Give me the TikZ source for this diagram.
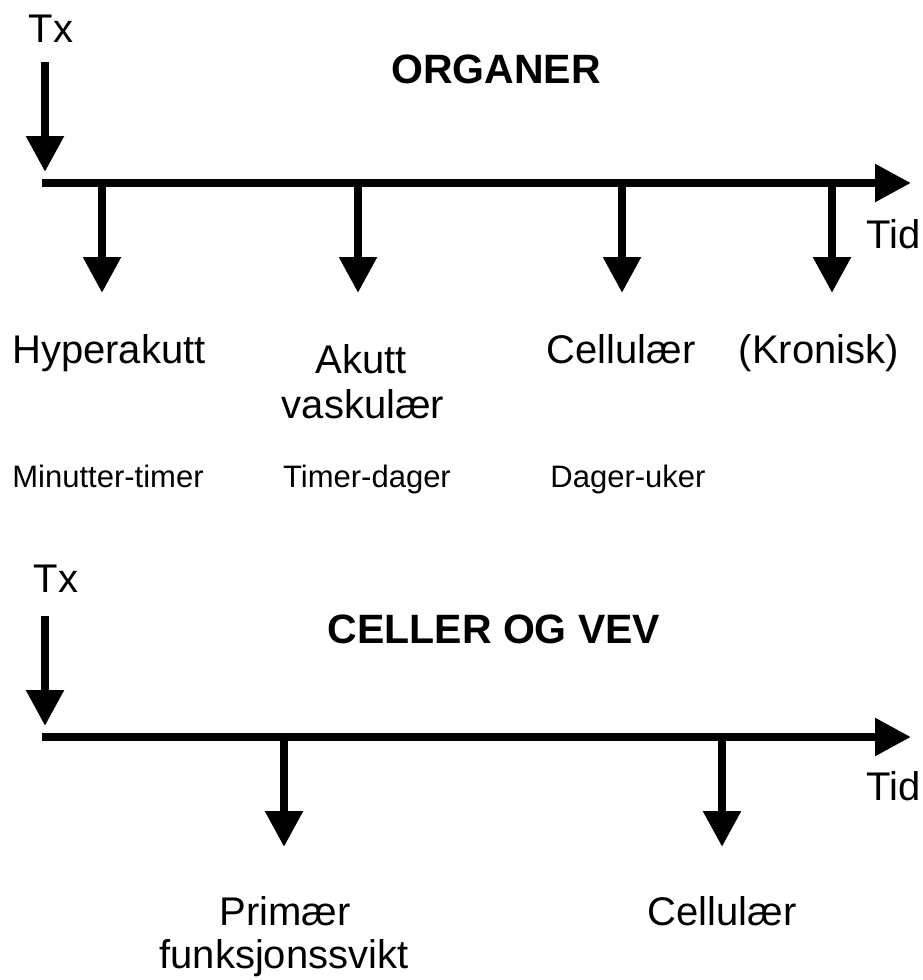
\documentclass[tikz,border=0pt]{standalone}
\usepackage{fontspec}
\setmainfont{Liberation Sans}
\usetikzlibrary{arrows.meta}
\begin{document}
\begin{tikzpicture}[x=1pt,y=-1pt,
  big/.style={font=\fontsize{40}{46}\selectfont, anchor=base, inner sep=0pt},
  small/.style={font=\fontsize{31}{36}\selectfont, anchor=base, inner sep=0pt},
  head/.style={font=\fontsize{41}{48}\selectfont\bfseries, anchor=base, inner sep=0pt},
  arr/.style={line width=8.5pt, -{Triangle[width=36pt,length=36pt]}},
  axis/.style={line width=8.5pt, -{Triangle[width=36pt,length=36pt]}}]
\useasboundingbox (0,0) rectangle (923,980);

% ---------- ORGANER ----------
\node[big] (tx1) at (51,42) {Tx};
\coordinate (tx1s) at (45,62);
\coordinate (tx1e) at (45,172);
\draw[arr] (tx1s) -- (tx1e);
\node[head] (org) at (496,83) {ORGANER};
\coordinate (ax1s) at (42,183);
\coordinate (ax1e) at (911,183);
\draw[axis] (ax1s) -- (ax1e);
\node[big] (tid1) at (894,248) {Tid};

\foreach \n/\x in {a/102,b/358,c/622,d/832}{
  \coordinate (o\n s) at (\x,183);
  \coordinate (o\n e) at (\x,293);
  \draw[arr] (o\n s) -- (o\n e);
}
\node[big] (hyp) at (109,363) {Hyperakutt};
\node[big] (ak1) at (361,373) {Akutt};
\node[big] (ak2) at (363,418) {vaskulær};
\node[big] (cel1) at (621,363) {Cellulær};
\node[big] (kro) at (819,363) {(Kronisk)};
\node[small] (mt) at (108,487) {Minutter-timer};
\node[small] (td) at (367,487) {Timer-dager};
\node[small] (du) at (628,487) {Dager-uker};

% ---------- CELLER OG VEV ----------
\node[big] (tx2) at (56,592) {Tx};
\coordinate (tx2s) at (45,616);
\coordinate (tx2e) at (45,726);
\draw[arr] (tx2s) -- (tx2e);
\node[head] (cov) at (494,643) {CELLER OG VEV};
\coordinate (ax2s) at (42,737);
\coordinate (ax2e) at (911,737);
\draw[axis] (ax2s) -- (ax2e);
\node[big] (tid2) at (894,800) {Tid};

\foreach \n/\x in {a/284,b/722}{
  \coordinate (c\n s) at (\x,737);
  \coordinate (c\n e) at (\x,847);
  \draw[arr] (c\n s) -- (c\n e);
}
\node[big] (pri) at (285,925) {Primær};
\node[big] (fun) at (284,968) {funksjonssvikt};
\node[big] (cel2) at (722,925) {Cellulær};
\end{tikzpicture}
\end{document}
